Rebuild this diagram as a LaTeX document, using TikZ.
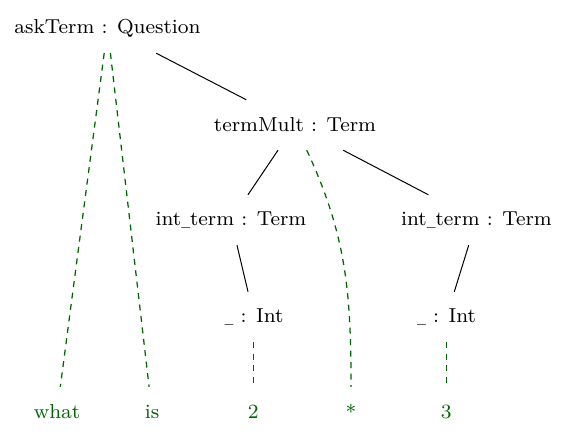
\documentclass[tikz,border=0pt]{standalone}
\usepackage{fontspec}
\setmainfont{lmroman8-regular.otf}
\definecolor{tgreen}{HTML}{006400}
\newcommand{\usc}{\scalebox{0.55}[1]{\_}}
\begin{document}
\begin{tikzpicture}[x=1pt,y=-1pt,
  lbl/.style={rectangle, minimum height=50pt, inner sep=0pt, font=\fontsize{20.2}{24}\selectfont},
  term/.style={lbl, text=tgreen},
  solidedge/.style={draw=black, line width=1pt},
  tokedge/.style={draw=tgreen, line width=1.25pt, dash pattern=on 6pt off 5.5pt}]
\useasboundingbox (0,0) rectangle (567,443);
\node[lbl] (ask) at (107.5,28) {askTerm : Question};
\node[lbl] (tm) at (295,125) {termMult : Term};
\node[lbl] (il) at (231,220) {int\usc term : Term};
\node[lbl] (ir) at (476.5,220) {int\usc term : Term};
\node[lbl] (ul) at (254,317) {\usc{} : Int};
\node[lbl] (ur) at (446.5,317) {\usc{} : Int};
\node[term] (what) at (57,412) {what};
\node[term] (is) at (152,412) {is};
\node[term] (two) at (253.3,412) {2};
\node[term] (star) at (351,412) {*};
\node[term] (three) at (446.3,412) {3};
\draw[solidedge] (ask) -- (tm);
\draw[tokedge] (ask) -- (what);
\draw[tokedge] (ask) -- (is);
\draw[solidedge] (tm) -- (il);
\draw[solidedge] (tm) -- (ir);
\draw[tokedge] (tm) to[out=-65,in=90] (star);
\draw[solidedge] (il) -- (ul);
\draw[solidedge] (ir) -- (ur);
\draw[tokedge, line width=1pt] (ul.south -| two) -- (two);
\draw[tokedge, line width=1pt] (ur.south -| three) -- (three);
\end{tikzpicture}
\end{document}
